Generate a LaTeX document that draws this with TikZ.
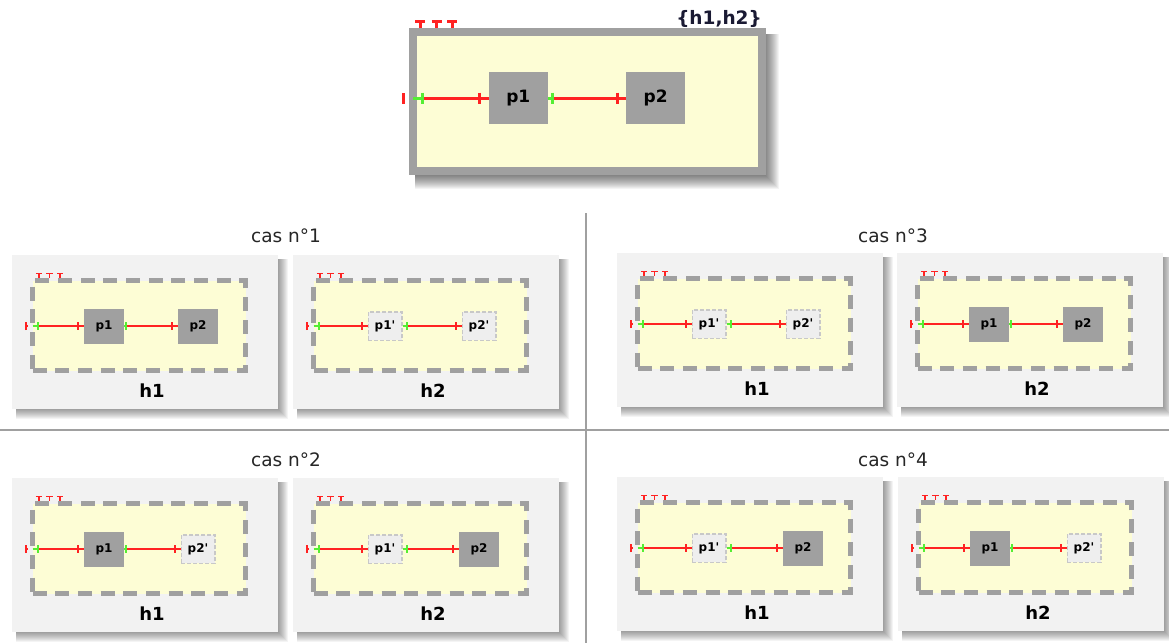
\documentclass[tikz,border=0pt]{standalone}
\usepackage{fontspec}
\setmainfont{DejaVu Sans}
\usetikzlibrary{arrows.meta}
\definecolor{panelbg}{HTML}{F2F2F2}
\definecolor{hyellow}{HTML}{FDFDD5}
\definecolor{boxgray}{HTML}{A0A0A0}
\definecolor{ghostfill}{HTML}{EEEEEE}
\definecolor{ghostline}{HTML}{C8C8C8}
\definecolor{wred}{HTML}{FF2222}
\definecolor{wgreen}{HTML}{55EE33}
\definecolor{navy}{HTML}{1A1A33}
\definecolor{divider}{HTML}{A0A0A0}
\tikzset{
  panel/.style={fill=panelbg, minimum width=266pt, minimum height=154pt, inner sep=0},
  hframe/.style={draw=boxgray, fill=hyellow, line width=5pt, dash pattern=on 14pt off 8.7pt,
    minimum width=213pt, minimum height=90pt, inner sep=0},
  topframe/.style={draw=boxgray, fill=hyellow, line width=8pt, minimum width=348.5pt,
    minimum height=138.7pt, inner sep=0},
  realbox/.style={fill=boxgray, minimum width=40pt, minimum height=35pt, inner sep=0,
    font=\fontsize{12}{12}\selectfont\bfseries},
  ghostbox/.style={fill=ghostfill, draw=ghostline, line width=1.5pt, dash pattern=on 4pt off 2pt,
    minimum width=33.5pt, minimum height=28.5pt, inner sep=0, font=\fontsize{12}{12}\selectfont\bfseries},
  bigbox/.style={fill=boxgray, minimum width=59pt, minimum height=52pt, inner sep=0,
    font=\fontsize{17}{17}\selectfont\bfseries},
  wire/.style={draw=wred, line width=1.8pt},
  gwire/.style={draw=wgreen, line width=1.8pt},
  bigwire/.style={draw=wred, line width=3pt},
  biggwire/.style={draw=wgreen, line width=3pt},
  hlabel/.style={font=\fontsize{18}{18}\selectfont\bfseries},
  cas/.style={font=\fontsize{18.5}{18.5}\selectfont, text=black!85},
  divline/.style={draw=divider, line width=1.5pt},
  shade/.style={fill=black, opacity=.045},
}
\begin{document}
\begin{tikzpicture}[x=1pt,y=-1pt]
\fill[white] (0,0) rectangle (1169,643);
\useasboundingbox (0,0) rectangle (1169,643);

% the joined hypothesis {h1,h2}
\foreach \k in {1,...,14} \fill[shade] (415,34) rectangle (765+\k,175+\k);
\node[topframe] (top) at (587.25,101.65) {};
\node[bigbox] (tp1) at (518.3,98) {p1};
\node[bigbox] (tp2) at (655.7,98) {p2};
\coordinate (tin) at (401.7,98);
\coordinate (tga) at (424.3,98);
\coordinate (tgb) at (554,98);
\draw[bigwire,{Bar[width=11pt]}-,shorten >=4pt] (tin) -- (tin -| top.west);
\draw[bigwire,-{Bar[width=11pt]},shorten >=8pt] (tga) -- (tp1.west);
\draw[bigwire] ([xshift=-8pt]tp1.west) -- (tp1.west);
\draw[bigwire,-{Bar[width=11pt]},shorten >=7pt] (tgb) -- (tp2.west);
\draw[bigwire] ([xshift=-7pt]tp2.west) -- (tp2.west);
\draw[biggwire,-{Bar[width=11pt]},shorten <=4pt] (tga -| top.west) -- (tga);
\draw[biggwire,-{Bar[width=11pt]}] (tp1.east) -- (tgb);
\foreach \tx in {420,436.7,452.3} \draw[bigwire,-{Bar[width=10pt]}] (\tx,28) -- (\tx,19.5);
\node[font=\fontsize{18.5}{18.5}\selectfont\bfseries, text=navy] (hset) at (719,18.5) {\{h1,h2\}};

% the eight split cases
\foreach \n/\px/\py/\lab/\sa/\ta/\sb/\tb in {
  1/12/255/h1/realbox/p1/realbox/p2,
  2/293/255/h2/ghostbox/p1\textquotesingle/ghostbox/p2\textquotesingle,
  3/617/253/h1/ghostbox/p1\textquotesingle/ghostbox/p2\textquotesingle,
  4/897/253/h2/realbox/p1/realbox/p2,
  5/12/478/h1/realbox/p1/ghostbox/p2\textquotesingle,
  6/293/478/h2/ghostbox/p1\textquotesingle/realbox/p2,
  7/617/477/h1/ghostbox/p1\textquotesingle/realbox/p2,
  8/898/477/h2/realbox/p1/ghostbox/p2\textquotesingle}{
  \begin{scope}[shift={(\px,\py)}]
    \foreach \k in {1,...,10} \fill[shade] (4,4) rectangle (266+\k,154+\k);
    \node[panel] (pn-\n) at (133,77) {};
    \node[hframe] (fr-\n) at (127,70.5) {};
    \foreach \tx in {27,37.5,48} \draw[wire,-{Bar[width=6.5pt]}] (\tx,23) -- (\tx,17.5);
    \node[\sa] (a-\n) at (92,71) {\ta};
    \node[\sb] (b-\n) at (186,71) {\tb};
    \coordinate (in-\n) at (13,71);
    \coordinate (ga-\n) at (27,71);
    \coordinate (gb-\n) at (115,71);
    \draw[wire,{Bar[width=8pt]}-,shorten >=2.5pt] (in-\n) -- (in-\n -| fr-\n.west);
    \draw[wire,-{Bar[width=8pt]},shorten >=5pt] (ga-\n) -- (a-\n.west);
    \draw[wire] ([xshift=-5pt]a-\n.west) -- (a-\n.west);
    \draw[wire,-{Bar[width=8pt]},shorten >=5pt] (gb-\n) -- (b-\n.west);
    \draw[wire] ([xshift=-5pt]b-\n.west) -- (b-\n.west);
    \draw[gwire,-{Bar[width=8pt]},shorten <=2.5pt] (ga-\n -| fr-\n.west) -- (ga-\n);
    \draw[gwire,-{Bar[width=8pt]}] (a-\n.east) -- (gb-\n);
    \node[hlabel] (l-\n) at (140,136) {\lab};
  \end{scope}
}

\node[cas] (cas1) at (286,236) {cas n°1};
\node[cas] (cas3) at (893,236) {cas n°3};
\node[cas] (cas2) at (286,460) {cas n°2};
\node[cas] (cas4) at (893,460) {cas n°4};

% dividers between the cases
\coordinate (vtop) at (586,213);
\coordinate (vbot) at (586,643);
\coordinate (hleft) at (0,430);
\coordinate (hright) at (1169,430);
\draw[divline] (vtop) -- (vbot);
\draw[divline] (hleft) -- (hright);
\end{tikzpicture}
\end{document}
